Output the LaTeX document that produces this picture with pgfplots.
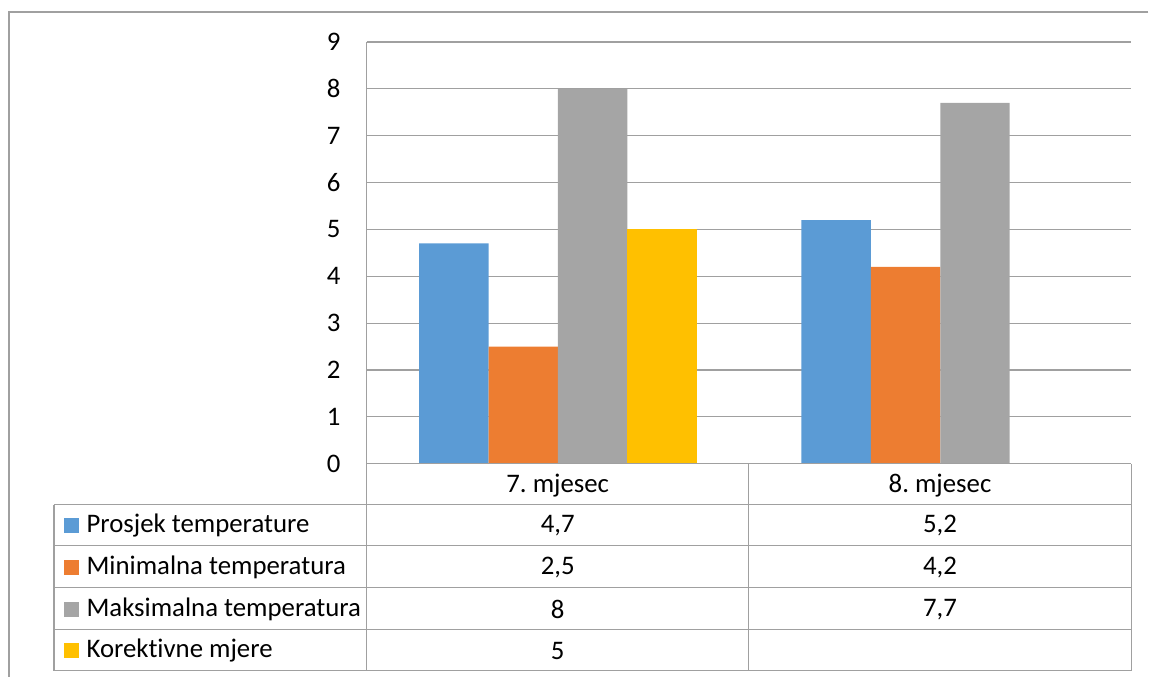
\documentclass[border=0pt]{standalone}
\usepackage{pgfplots}
\pgfplotsset{compat=1.18}
\usepackage{fontspec}
\setmainfont{Carlito}[Ligatures=NoCommon]
\frenchspacing

\definecolor{cBlue}{HTML}{5B9BD5}
\definecolor{cOrange}{HTML}{ED7D31}
\definecolor{cGray}{HTML}{A5A5A5}
\definecolor{cYellow}{HTML}{FFC000}
\definecolor{lineGray}{RGB}{160,160,160}

\newcommand\tf{\fontsize{13.4pt}{15pt}\selectfont}

\begin{document}
\begin{tikzpicture}
% 1 px of the reference = 0.5pt, y runs downwards in this scope
\begin{scope}[x=0.5pt,y=-0.5pt]
  \useasboundingbox (0,0) rectangle (1149,677);
\end{scope}

\begin{axis}[
	at={(183.5pt,-232pt)}, anchor=south west,
	width=382.5pt, height=211pt, scale only axis,
	xmin=0, xmax=2, ymin=0, ymax=9,
	xtick=\empty,
	ytick={0,1,...,9},
	axis line style={draw=none},
	major tick length=0pt,
	ymajorgrids,
	grid style={line width=0.6pt, color=lineGray},
	/pgf/number format/assume math mode=true,
	yticklabel style={font=\tf, anchor=east, inner sep=0pt, xshift=-13pt},
	]
	% Prosjek temperature
	\addplot[ybar, bar width=0.1817, bar shift=-0.2725, fill=cBlue, draw=none]
		coordinates {(0.5,4.7) (1.5,5.2)};
	% Minimalna temperatura
	\addplot[ybar, bar width=0.1817, bar shift=-0.0908, fill=cOrange, draw=none]
		coordinates {(0.5,2.5) (1.5,4.2)};
	% Maksimalna temperatura
	\addplot[ybar, bar width=0.1817, bar shift=0.0908, fill=cGray, draw=none]
		coordinates {(0.5,8) (1.5,7.7)};
	% Korektivne mjere
	\addplot[ybar, bar width=0.1817, bar shift=0.2725, fill=cYellow, draw=none]
		coordinates {(0.5,5)};
\end{axis}

\begin{scope}[x=0.5pt,y=-0.5pt, line width=0.6pt]
  % outer frame (runs off the right and bottom edge)
  \draw[lineGray] (1149,12) -- (9,12) -- (9,677);
  % data table
  \draw[lineGray] (367,42) -- (367,671);
  \draw[lineGray] (367,464) -- (1132,464);
  \foreach \yy in {505,546,588,630,671}
    \draw[lineGray] (54,\yy) -- (1132,\yy);
  \draw[lineGray] (54,505) -- (54,671);
  \draw[lineGray] (749,464) -- (749,671);
  \draw[lineGray] (1132,464) -- (1132,671);
  % header
  \node[font=\tf] at (558,486) {7. mjesec};
  \node[font=\tf] at (940.5,486) {8. mjesec};
  % rows
  \foreach \yy/\col/\name/\va/\vb in {
      526/cBlue/Prosjek temperature/{4,7}/{5,2},
      568/cOrange/Minimalna temperatura/{2,5}/{4,2},
      610/cGray/Maksimalna temperatura/8/{7,7},
      651/cYellow/Korektivne mjere/5/{}} {
    \fill[\col] (64,\yy-8) rectangle (79,\yy+7);
    \node[font=\tf, anchor=west, inner sep=0pt] at (86,\yy) {\name};
    \node[font=\tf] at (558,\yy) {\va};
    \node[font=\tf] at (940.5,\yy) {\vb};
  }
\end{scope}
\end{tikzpicture}
\end{document}
